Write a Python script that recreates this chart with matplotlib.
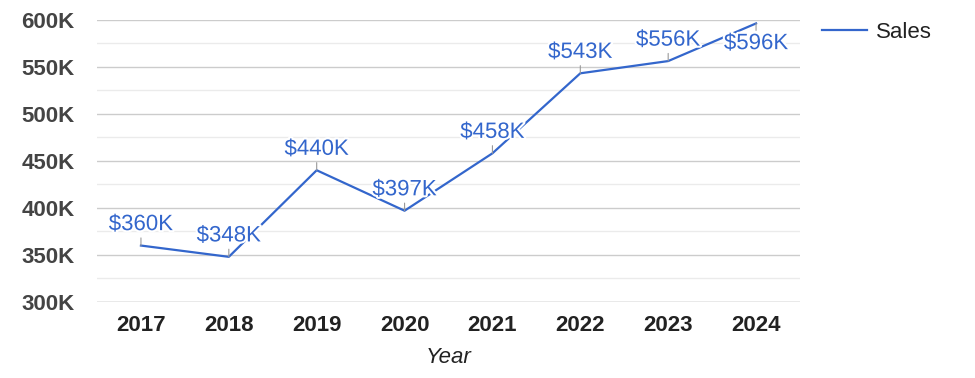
import matplotlib
matplotlib.use("Agg")
import matplotlib.pyplot as plt
import matplotlib.patheffects as pe
from matplotlib.ticker import MultipleLocator, FuncFormatter

years = ["2017", "2018", "2019", "2020", "2021", "2022", "2023", "2024"]
sales_k = [360, 348, 440, 397, 458, 543, 556, 596]
value_labels = ["$360K", "$348K", "$440K", "$397K", "$458K", "$543K", "$556K", "$596K"]

plt.rcParams["font.family"] = ["Liberation Sans", "DejaVu Sans"]
FS = 16

fig = plt.figure(figsize=(9.75, 3.78), dpi=100)
ax = fig.add_axes([0.0995, 0.201, 0.7210, 0.747])

x = list(range(len(years)))
line, = ax.plot(x, sales_k, color="#3366CC", lw=1.6, label="Sales", zorder=3)

for i, (v, t) in enumerate(zip(sales_k, value_labels)):
    below = v > 580
    ax.annotate(
        t, xy=(i, v), xytext=(0, -7 if below else 7.5), textcoords="offset points",
        ha="center", va="top" if below else "bottom", fontsize=FS, color="#3366CC",
        arrowprops=dict(arrowstyle="-", color="#999999", lw=0.8, shrinkA=0, shrinkB=0),
        path_effects=[pe.withStroke(linewidth=3, foreground="white")], zorder=4,
    )

ax.set_xlim(-0.5, len(years) - 0.5)
ax.set_ylim(300, 600)
ax.set_xticks(x)
ax.set_xticklabels(years, fontsize=FS, fontweight="bold", color="#222222")
ax.yaxis.set_major_locator(MultipleLocator(50))
ax.yaxis.set_minor_locator(MultipleLocator(25))
ax.yaxis.set_major_formatter(FuncFormatter(lambda v, p: f"{int(v)}K"))
for lab in ax.get_yticklabels():
    lab.set_fontweight("bold")
    lab.set_fontsize(FS)
    lab.set_color("#444444")
ax.tick_params(axis="both", which="both", length=0)
ax.tick_params(axis="y", pad=16)
ax.tick_params(axis="x", pad=9)
ax.grid(axis="y", which="major", color="#cccccc", lw=1)
ax.grid(axis="y", which="minor", color="#ebebeb", lw=1)
ax.set_axisbelow(True)
for s in ax.spines.values():
    s.set_visible(False)
ax.axhline(300, color="#bbbbbb", lw=1, zorder=1)

ax.set_xlabel("Year", fontsize=FS, style="italic", color="#222222", labelpad=8)

fig.legend(handles=[line], loc="upper left", bbox_to_anchor=(0.823, 0.996),
           frameon=False, fontsize=FS, handlelength=2.0, handletextpad=0.4,
           labelcolor="#222222")

fig.savefig("out.png", dpi=100)
